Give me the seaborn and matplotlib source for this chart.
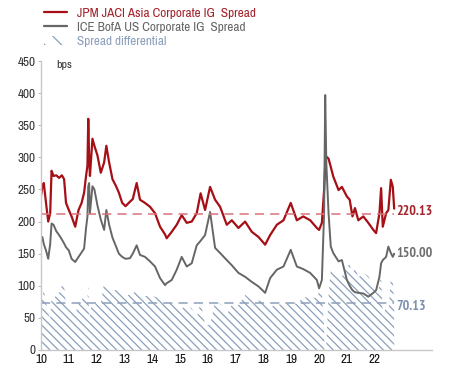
import seaborn as sns
import numpy as np
import matplotlib.pyplot as plt
import pandas as pd
from matplotlib.lines import Line2D
from matplotlib.patches import Patch

# time axis in two-digit years (10 = 2010)
years = [10.00, 10.05, 10.10, 10.18, 10.26, 10.33, 10.38, 10.45, 10.55, 10.65,
         10.75, 10.83, 10.90, 11.00, 11.10, 11.23, 11.35, 11.46, 11.55, 11.62,
         11.67, 11.70, 11.73, 11.76, 11.85, 11.92, 12.03, 12.15, 12.27, 12.35,
         12.45, 12.57, 12.70, 12.80, 12.92, 13.04, 13.20, 13.30, 13.44, 13.56,
         13.74, 13.92, 14.10, 14.28, 14.46, 14.52, 14.70, 14.88, 15.06, 15.24,
         15.42, 15.60, 15.74, 15.90, 16.08, 16.26, 16.44, 16.68, 16.86, 17.10,
         17.34, 17.58, 17.82, 18.06, 18.24, 18.48, 18.72, 18.98, 19.20, 19.43,
         19.68, 19.92, 20.00, 20.10, 20.18, 20.22, 20.26, 20.34, 20.42, 20.51,
         20.70, 20.82, 21.00, 21.10, 21.20, 21.29, 21.41, 21.59, 21.77, 21.95,
         22.05, 22.17, 22.23, 22.29, 22.41, 22.49, 22.58, 22.65, 22.70]

jaci_asia_ig = [240, 255, 260, 229, 200, 213, 279, 271, 272, 268,
                272, 266, 229, 218, 208, 192, 218, 229, 245, 271,
                287, 360, 300, 271, 329, 318, 303, 276, 292, 318,
                292, 266, 255, 245, 229, 224, 231, 235, 260, 234,
                229, 223, 213, 192, 180, 174, 184, 195, 210, 198,
                200, 213, 244, 218, 254, 234, 223, 195, 202, 190,
                200, 184, 176, 164, 179, 195, 202, 229, 202, 208,
                202, 190, 187, 198, 249, 290, 301, 298, 285, 270,
                249, 254, 239, 234, 208, 221, 202, 208, 198, 187,
                182, 213, 252, 192, 213, 218, 265, 254, 220.13]

ice_us_ig = [168, 176, 165, 155, 142, 165, 197, 195, 185, 179,
             172, 166, 160, 155, 142, 137, 145, 152, 158, 190,
             208, 255, 260, 213, 255, 250, 225, 203, 187, 218,
             195, 175, 161, 150, 145, 142, 143, 150, 163, 148,
             145, 138, 130, 112, 101, 104, 109, 125, 145, 130,
             135, 163, 170, 179, 215, 159, 151, 140, 132, 120,
             114, 106, 99, 89, 112, 125, 130, 156, 130, 126,
             120, 109, 96, 109, 213, 397, 291, 213, 161, 151,
             138, 140, 109, 100, 93, 90, 89, 88, 83, 89,
             93, 114, 135, 140, 145, 161, 151, 145, 150.00]

jaci_avg = 211
spread_avg = 73

df = pd.DataFrame({"year": years, "jaci": jaci_asia_ig, "ice": ice_us_ig})
df["spread"] = df["jaci"] - df["ice"]

red = "#a50f15"
grey = "#666666"
blue = "#8c9fbb"

sns.set_theme(style="white")
plt.rcParams["font.family"] = ["Archivo Narrow", "DejaVu Sans"]
plt.rcParams["hatch.linewidth"] = 0.9

fig = plt.figure(figsize=(4.51, 3.79), dpi=100)
ax = fig.add_axes([41 / 451, 29 / 379, 391 / 451, 289 / 379])

ax.fill_between(df["year"], 0, df["spread"], facecolor="white",
                edgecolor=blue, linewidth=0, hatch="\\\\\\\\")
sns.lineplot(data=df, x="year", y="jaci", color=red, lw=1.6, ax=ax)
sns.lineplot(data=df, x="year", y="ice", color=grey, lw=1.4, ax=ax)

x0, x1 = years[0], years[-1]
ax.hlines(jaci_avg, x0, x1, colors="#d9737a", linestyles=(0, (6, 4)), lw=1.1)
ax.hlines(spread_avg, x0, x1, colors=blue, linestyles=(0, (6, 4)), lw=1.1)

lbl = dict(fontsize=10, fontweight="bold", va="center",
           family=["PT Sans Narrow", "DejaVu Sans"])
ax.text(x1 + 0.08, jaci_asia_ig[-1] - 5, f"{jaci_asia_ig[-1]:.2f}", color="#a3222b", **lbl)
ax.text(x1 + 0.08, ice_us_ig[-1], f"{ice_us_ig[-1]:.2f}", color="#6e6e6e", **lbl)
ax.text(x1 + 0.08, df["spread"].iloc[-1] - 3, f"{df['spread'].iloc[-1]:.2f}",
        color="#7b8fae", **lbl)
ax.text(10.55, 443, "bps", fontsize=8.5, color="#333333", va="center")

ax.set_xlim(10, 24.06)
ax.set_ylim(0, 450)
ax.set_xticks(range(10, 23))
ax.set_yticks(range(0, 451, 50))
ax.set_xlabel("")
ax.set_ylabel("")
ax.tick_params(axis="y", length=2, width=0.8, color="#bfbfbf", pad=2,
               labelsize=9.5, labelcolor="#333333", left=True)
ax.tick_params(axis="x", length=0, pad=3, labelsize=9.5, labelcolor="#111111")
sns.despine(ax=ax)
for s in ["left", "bottom"]:
    ax.spines[s].set_color("#c8c8c8")
    ax.spines[s].set_linewidth(1)

handles = [
    Line2D([], [], color=red, lw=1.6),
    Line2D([], [], color=grey, lw=1.6),
    Patch(facecolor="white", edgecolor=blue, linewidth=0, hatch="\\\\"),
]
labels = ["JPM JACI Asia Corporate IG  Spread",
          "ICE BofA US Corporate IG  Spread",
          "Spread differential"]
fig.legend(handles, labels, loc="upper left", bbox_to_anchor=(0.072, 1.012),
           frameon=False, fontsize=9.5, handlelength=1.7, handletextpad=0.8,
           labelspacing=0.22, labelcolor=["#a3222b", "#666666", "#8c9fbb"])

fig.savefig("out.png", dpi=100)
